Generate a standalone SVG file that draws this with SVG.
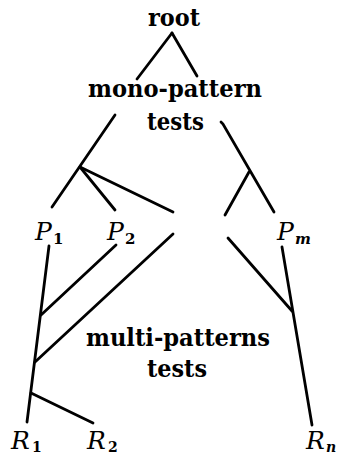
<svg xmlns="http://www.w3.org/2000/svg" width="337" height="457" viewBox="0 0 337 457">
<style>
.w{font-family:"DejaVu Serif","Liberation Serif",serif;font-size:25px;font-weight:bold;fill:#000}
.m{font-family:"DejaVu Serif","Liberation Serif",serif;font-size:25px;font-style:italic;fill:#000}
.s{font-family:"DejaVu Serif","Liberation Serif",serif;font-size:15px;font-weight:bold;fill:#000}
.si{font-family:"DejaVu Serif","Liberation Serif",serif;font-size:15px;font-style:italic;font-weight:bold;fill:#000}
.c line,.c path{stroke:#000;stroke-width:2.8;stroke-linecap:round;fill:none}
</style>
<rect width="337" height="457" fill="#fff"/>
<g class="c" id="connectors">
<line x1="172" y1="33" x2="137" y2="79"/>
<line x1="172" y1="33" x2="197" y2="76"/>
<line x1="115" y1="115" x2="52" y2="207"/>
<line x1="80" y1="167" x2="115" y2="210"/>
<line x1="80" y1="167" x2="173" y2="212"/>
<path d="M221 122 L223 124 L274 212"/>
<line x1="249" y1="172" x2="225" y2="215"/>
<line x1="49" y1="246" x2="27" y2="422"/>
<line x1="116" y1="245" x2="41" y2="315"/>
<line x1="173" y1="234" x2="35" y2="362"/>
<line x1="31" y1="393" x2="93" y2="423"/>
<line x1="228" y1="238" x2="292" y2="311"/>
<line x1="282" y1="247" x2="312" y2="425"/>
</g>
<g id="root"><text class="w" x="148" y="26" textLength="52" lengthAdjust="spacingAndGlyphs">root</text></g>
<g id="mono"><text class="w" x="88" y="97" textLength="174" lengthAdjust="spacingAndGlyphs">mono-pattern</text><text class="w" x="147" y="130" textLength="57" lengthAdjust="spacingAndGlyphs">tests</text></g>
<g id="P1"><text class="m" x="35" y="240">P</text><text class="s" x="53" y="244">1</text></g>
<g id="P2"><text class="m" x="107" y="240">P</text><text class="s" x="125" y="244">2</text></g>
<g id="Pm"><text class="m" x="277" y="240">P</text><text class="si" x="295" y="244">m</text></g>
<g id="multi"><text class="w" x="86" y="346" textLength="184" lengthAdjust="spacingAndGlyphs">multi-patterns</text><text class="w" x="147" y="377" textLength="60" lengthAdjust="spacingAndGlyphs">tests</text></g>
<g id="R1"><text class="m" x="11" y="449">R</text><text class="s" x="32" y="452" style="font-size:14px">1</text></g>
<g id="R2"><text class="m" x="87" y="449">R</text><text class="s" x="108" y="452" style="font-size:14px">2</text></g>
<g id="Rn"><text class="m" x="306" y="449">R</text><text class="si" x="326" y="452" style="font-size:14px">n</text></g>
</svg>
